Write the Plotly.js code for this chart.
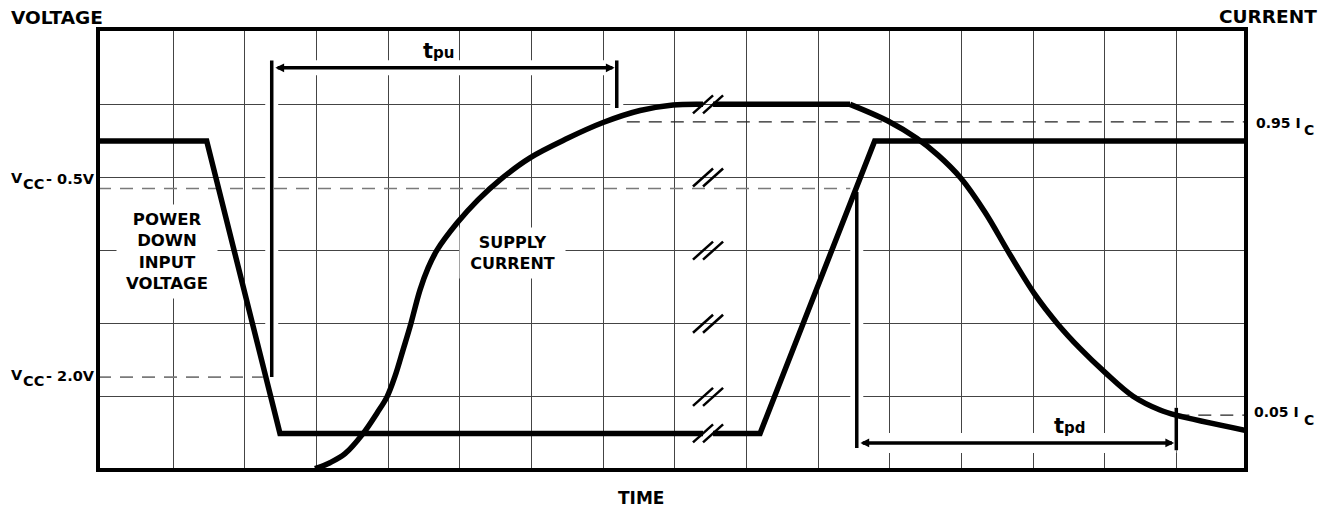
<!DOCTYPE html>
<html><head><meta charset="utf-8">
<script src="https://cdn.plot.ly/plotly-3.0.1.min.js"></script>
<style>html,body{margin:0;padding:0;background:#fff}</style>
</head><body><div id="chart" style="width:1333px;height:513px"></div>
<script>
// ---- data (time in grid divisions, level in grid divisions) ----
const voltageT = [-0.051, 1.466, 2.489, 8.394, null, 8.534, 9.19, 10.79, 15.973];
const voltageV = [4.5, 4.5, 0.5, 0.5, null, 0.5, 0.5, 4.5, 4.5];

const riseT = [2.978, 3.187, 3.397, 3.648, 3.843, 3.983, 4.095, 4.206, 4.304, 4.443, 4.555, 4.681, 4.960, 5.253, 5.560, 5.979, 6.496, 6.999, 7.515, 7.976, 8.352, 8.394];
const riseI = [0.018, 0.100, 0.223, 0.497, 0.777, 1.0, 1.283, 1.639, 1.958, 2.460, 2.760, 3.006, 3.376, 3.694, 3.968, 4.269, 4.532, 4.751, 4.915, 4.990, 5.0, 5.0];
const plateauT = [8.534, 10.446];
const plateauI = [5.0, 5.0];
const fallT = [10.446, 10.976, 11.377, 11.674, 11.991, 12.330, 12.679, 13.028, 13.335, 13.656, 14.005, 14.396, 14.773, 14.996, 15.973];
const fallI = [5.0, 4.772, 4.535, 4.305, 3.992, 3.524, 2.945, 2.398, 2.008, 1.663, 1.335, 1.009, 0.82, 0.749, 0.54];

const dashLevels = [3.85, 1.27, 4.76, 0.75];
const dashStart = [-0.051, -0.051, 7.33, 15.0];
const dashEnd = [10.45, 2.25, 15.973, 15.973];

const breakT = 8.464;
const breakLevels = [0.5, 1, 2, 3, 4, 5];

const tpuT = [2.374, 7.19];
const tpuArrowY = 5.5;
const tpuStartSpan = [5.60, 1.27];
const tpuEndSpan = [5.60, 4.95];

const tpdT = [10.54, 15.0];
const tpdArrowY = 0.37;
const tpdStartSpan = [3.80, 0.30];
const tpdEndSpan = [0.85, 0.27];

const xGrid = [1,2,3,4,5,6,7,8,9,10,11,12,13,14,15];
const yGrid = [1,2,3,4,5];

// ---- build ----
const FONT = 'DejaVu Sans, Liberation Sans, Arial, sans-serif';
const traces = [];
function line(x, y, color, width, extra) {
  traces.push({type:'scatter', mode:'lines', x:x, y:y, hoverinfo:'skip', showlegend:false,
    line:Object.assign({color:color, width:width}, extra || {})});
}
// white halos under dimension lines
line([tpuT[0], tpuT[0]], tpuStartSpan, '#fff', 13);
line([tpuT[1], tpuT[1]], tpuEndSpan, '#fff', 13);
line(tpuT, [tpuArrowY, tpuArrowY], '#fff', 15);
line([tpdT[0], tpdT[0]], tpdStartSpan, '#fff', 13);
line([tpdT[1], tpdT[1]], tpdEndSpan, '#fff', 13);
line(tpdT, [tpdArrowY, tpdArrowY], '#fff', 20);

// dashed reference levels
const dashColors = ['#7a7a7a', '#7a7a7a', '#222', '#222'];
const dashWidths = [1.6, 1.6, 1.2, 1.2];
for (let i = 0; i < dashLevels.length; i++) {
  line([dashStart[i], dashEnd[i]], [dashLevels[i], dashLevels[i]], dashColors[i], dashWidths[i], {dash:'13px,9px'});
}

// curves
line(voltageT, voltageV, '#000', 5.5);
line(riseT, riseI, '#000', 5.5, {shape:'spline', smoothing:1});
line(plateauT, plateauI, '#000', 5.5);
line(fallT, fallI, '#000', 5.5, {shape:'spline', smoothing:1});

// break marks "//"
const bx = [], by = [];
breakLevels.forEach(function(lv){
  [-0.07, 0.07].forEach(function(o){
    bx.push(breakT + o - 0.14, breakT + o + 0.14, null);
    by.push(lv - 0.123, lv + 0.123, null);
  });
});
line(bx, by, '#000', 2.5);

// dimension verticals
line([tpuT[0], tpuT[0]], tpuStartSpan, '#000', 3.5);
line([tpuT[1], tpuT[1]], tpuEndSpan, '#000', 3.5);
line([tpdT[0], tpdT[0]], tpdStartSpan, '#000', 3.5);
line([tpdT[1], tpdT[1]], tpdEndSpan, '#000', 3.5);

// ---- annotations ----
const ann = [];
function arrow(x0, x1, y) {
  ann.push({xref:'x', yref:'y', axref:'x', ayref:'y', x:x1, y:y, ax:x0, ay:y, text:'',
    showarrow:true, arrowside:'end+start', arrowhead:2, startarrowhead:2,
    arrowsize:0.5, startarrowsize:0.5, arrowwidth:3.5, arrowcolor:'#000', standoff:0, startstandoff:0});
}
arrow(tpuT[0] + 0.03, tpuT[1] - 0.03, tpuArrowY);
arrow(tpdT[0] + 0.03, tpdT[1] - 0.03, tpdArrowY);

function lab(text, x, y, size, xanchor, ref, extra) {
  ann.push(Object.assign({xref: ref || 'paper', yref: ref || 'paper', x:x, y:y, text:text, showarrow:false,
    xanchor: xanchor || 'center', yanchor:'middle', font:{family:FONT, size:size, color:'#000'}}, extra || {}));
}
lab('<b>VOLTAGE</b>', -0.0775, 1.026, 18.5, 'left');
lab('<b>CURRENT</b>', 1.0635, 1.028, 18.5, 'right');
lab('<b>TIME</b>', 0.4734, -0.0624, 17);

lab('<b>V</b>', -0.0775, 0.6615, 14.5, 'left');
lab('<b>CC</b>', -0.0675, 0.6485, 14.5, 'left');
lab('<b>- 0.5V</b>', -0.0470, 0.6600, 14.5, 'left');
lab('<b>V</b>', -0.0775, 0.2154, 14.5, 'left');
lab('<b>CC</b>', -0.0675, 0.2018, 14.5, 'left');
lab('<b>- 2.0V</b>', -0.0470, 0.2132, 14.5, 'left');

lab('<b>0.95 I</b>', 1.0070, 0.7868, 14, 'left');
lab('<b>C</b>', 1.0488, 0.7710, 14, 'left');
lab('<b>0.05 I</b>', 1.0053, 0.1304, 14, 'left');
lab('<b>C</b>', 1.0488, 0.1134, 14, 'left');

lab('<b>POWER<br>DOWN<br>INPUT<br>VOLTAGE</b>', 0.919, 2.986, 16.5, 'center', 'x',
  {yref:'y', bgcolor:'#fff', borderpad:5, width:90});
lab('<b>SUPPLY<br>CURRENT</b>', 5.735, 2.962, 16, 'center', 'x',
  {yref:'y', bgcolor:'#fff', borderpad:5, width:95});
lab('<b>t<span style="font-size:15px">pu</span></b>', 4.695, 5.73, 21, 'center', 'x', {yref:'y'});
lab('<b>t<span style="font-size:15px">pd</span></b>', 13.517, 0.60, 21, 'center', 'x', {yref:'y'});

const layout = {
  width:1333, height:513,
  margin:{l:98, r:87, t:29, b:43, pad:0},
  paper_bgcolor:'#fff', plot_bgcolor:'#fff',
  showlegend:false, hovermode:false,
  xaxis:{range:[-0.051, 15.973], tickmode:'array', tickvals:xGrid, showticklabels:false, ticks:'',
    showgrid:true, gridcolor:'#444', gridwidth:1, zeroline:false, showline:false, fixedrange:true},
  yaxis:{range:[0, 6.03], tickmode:'array', tickvals:yGrid, showticklabels:false, ticks:'',
    showgrid:true, gridcolor:'#444', gridwidth:1, zeroline:false, showline:false, fixedrange:true},
  shapes:[{type:'rect', xref:'paper', yref:'paper', x0:0, x1:1, y0:0, y1:1,
    line:{color:'#000', width:4}, layer:'above'}],
  annotations: ann
};
Plotly.newPlot('chart', traces, layout, {staticPlot:true, displayModeBar:false});
</script>
</body></html>
